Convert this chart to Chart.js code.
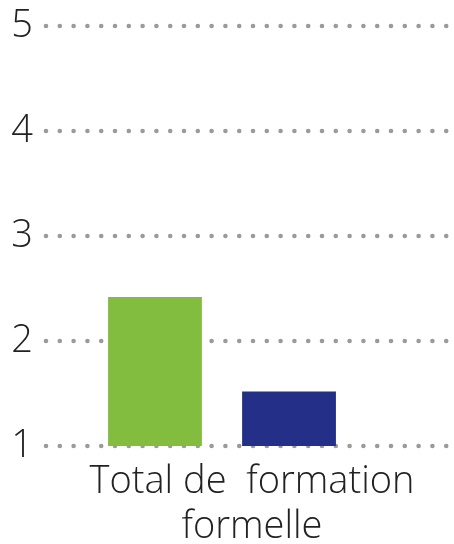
<!DOCTYPE html>
<html><head><meta charset="utf-8">
<script src="https://cdn.jsdelivr.net/npm/chart.js@4/dist/chart.umd.min.js"></script>
<style>html,body{margin:0;padding:0;background:#fff}</style>
</head><body>
<canvas id="c" width="454" height="544"></canvas>
<script>
const categories = [["Total de  formation", "formelle"]];
const seriesNames = ["Série 1", "Série 2"];
const greenValues = [2.42];
const blueValues = [1.52];
const yMin = 1, yMax = 5, yStep = 1;

const dotGrid = {
  id: 'dotGrid',
  beforeDatasetsDraw(chart) {
    const ctx = chart.ctx, y = chart.scales.y, area = chart.chartArea;
    ctx.save();
    ctx.fillStyle = '#9a9a9a';
    y.ticks.forEach(t => {
      const py = y.getPixelForValue(t.value);
      for (let x = area.left + 2; x <= 449; x += 13.8) {
        ctx.beginPath();
        ctx.arc(x, py, 2.3, 0, Math.PI * 2);
        ctx.fill();
      }
    });
    ctx.restore();
  }
};

new Chart(document.getElementById('c'), {
  type: 'bar',
  data: {
    labels: categories,
    datasets: [
      { label: seriesNames[0], data: greenValues, backgroundColor: '#83bd3f', borderWidth: 0 },
      { label: seriesNames[1], data: blueValues, backgroundColor: '#243087', borderWidth: 0 }
    ]
  },
  options: {
    responsive: false,
    devicePixelRatio: 1,
    animation: false,
    categoryPercentage: 0.753,
    barPercentage: 0.70,
    layout: { padding: { top: 0, right: 54, left: 0, bottom: 0 } },
    plugins: { legend: { display: false }, tooltip: { enabled: false } },
    scales: {
      x: {
        grid: { display: false, drawTicks: false },
        border: { display: false },
        afterFit: s => { s.height = 98; s.paddingLeft = 0; s.paddingRight = 0; },
        ticks: {
          font: { family: 'Open Sans', size: 38, weight: 350, lineHeight: 1.18 },
          color: '#222',
          padding: 14,
          labelOffset: 30,
          maxRotation: 0,
          autoSkip: false
        }
      },
      y: {
        min: yMin, max: yMax,
        grid: { display: false, drawTicks: false },
        border: { display: false },
        afterFit: s => { s.width = 44; s.paddingTop = 26; s.paddingBottom = 0; },
        ticks: {
          stepSize: yStep,
          font: { family: 'Open Sans', size: 38, weight: 350 },
          color: '#222',
          padding: 11
        }
      }
    }
  },
  plugins: [dotGrid]
});
</script>
</body></html>
